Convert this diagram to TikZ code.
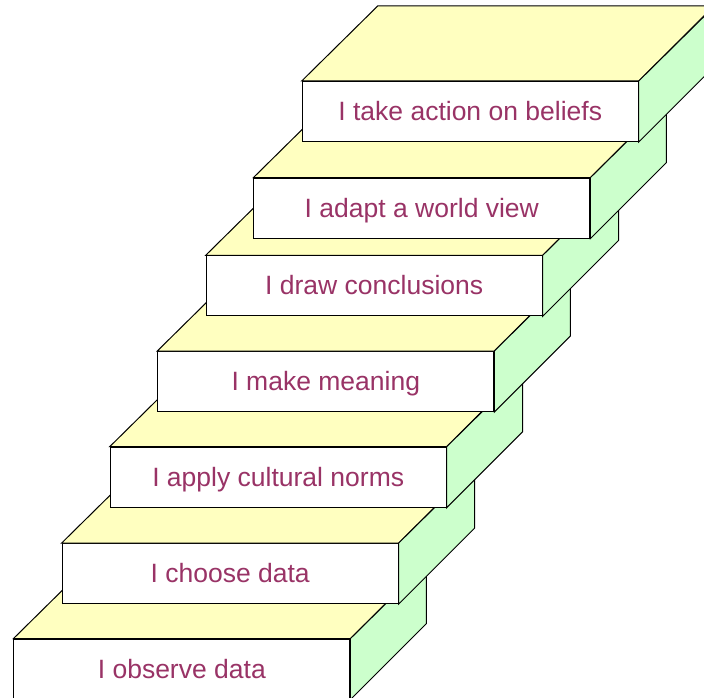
\documentclass[tikz,border=0pt]{standalone}
\usepackage{fontspec}
\setmainfont{Liberation Sans}
\usepackage{tikz}
\definecolor{stepyellow}{RGB}{255,255,192}
\definecolor{stepgreen}{RGB}{204,255,204}
\definecolor{steptext}{RGB}{153,51,102}

\begin{document}
\begin{tikzpicture}[x=1pt, y=-1pt, line join=miter, line width=1pt]
    \tikzstyle{front}=[draw, fill=white, rectangle, anchor=north west, inner sep=0pt,
                       minimum width=336pt, text height=39pt, text depth=21pt,
                       font=\fontsize{26.5}{30}\selectfont, text=steptext]
    \tikzstyle{top}=[draw, fill=stepyellow]
    \tikzstyle{side}=[draw, fill=stepgreen]
  \clip (0,0) rectangle (704,698);
  \useasboundingbox (0,0) rectangle (704,698);

  %% step 1
  \node (observe) at (13.3,638.7) [front] {I observe data};
  \draw[top] (observe.north west) -- ++(76,-75) -- ++(336,0) -- (observe.north east) -- cycle;
  \draw[side] (observe.north east) -- ++(76,-75) -- ++(0,60) -- (observe.south east) -- cycle;

  %% step 2
  \node (choose) at (61.7,543) [front] {I choose data};
  \draw[top] (choose.north west) -- ++(76,-75) -- ++(336,0) -- (choose.north east) -- cycle;
  \draw[side] (choose.north east) -- ++(76,-75) -- ++(0,60) -- (choose.south east) -- cycle;

  %% step 3
  \node (norms) at (109.7,446.7) [front] {I apply cultural norms};
  \draw[top] (norms.north west) -- ++(76,-75) -- ++(336,0) -- (norms.north east) -- cycle;
  \draw[side] (norms.north east) -- ++(76,-75) -- ++(0,60) -- (norms.south east) -- cycle;

  %% step 4
  \node (meaning) at (157.3,351) [front] {I make meaning};
  \draw[top] (meaning.north west) -- ++(76,-75) -- ++(336,0) -- (meaning.north east) -- cycle;
  \draw[side] (meaning.north east) -- ++(76,-75) -- ++(0,60) -- (meaning.south east) -- cycle;

  %% step 5
  \node (concl) at (205.7,255.3) [front] {I draw conclusions};
  \draw[top] (concl.north west) -- ++(76,-75) -- ++(336,0) -- (concl.north east) -- cycle;
  \draw[side] (concl.north east) -- ++(76,-75) -- ++(0,60) -- (concl.south east) -- cycle;

  %% step 6
  \node (view) at (253.3,177.7) [front] {I adapt a world view};
  \draw[top] (view.north west) -- ++(76,-75) -- ++(336,0) -- (view.north east) -- cycle;
  \draw[side] (view.north east) -- ++(76,-75) -- ++(0,60) -- (view.south east) -- cycle;

  %% step 7 (top)
  \node (beliefs) at (301.7,81) [front] {I take action on beliefs};
  \draw[top] (beliefs.north west) -- ++(76,-75) -- ++(336,0) -- (beliefs.north east) -- cycle;
  \draw[side] (beliefs.north east) -- ++(76,-75) -- ++(0,60) -- (beliefs.south east) -- cycle;
\end{tikzpicture}
\end{document}
